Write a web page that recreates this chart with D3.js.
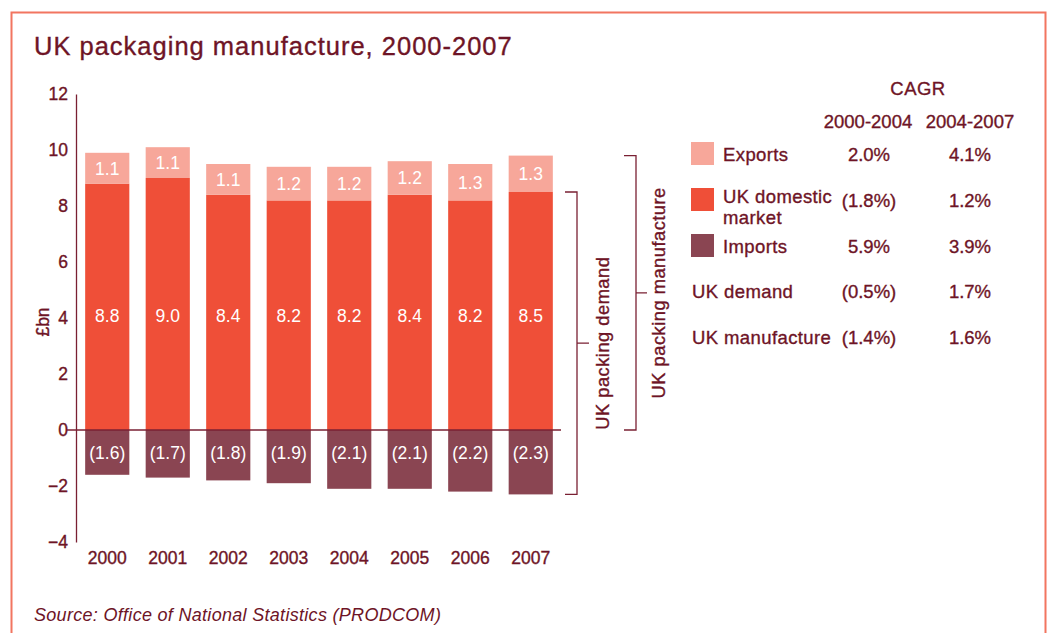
<!DOCTYPE html>
<html>
<head>
<meta charset="utf-8">
<script src="https://cdn.jsdelivr.net/npm/d3@7/dist/d3.min.js"></script>
<style>
  html, body { margin: 0; padding: 0; background: #fff; }
  svg { display: block; font-family: "Liberation Sans", Arial, Helvetica, sans-serif; }
  .ink { fill: #6e1426; stroke: #6e1426; stroke-width: 0.35px; }
</style>
</head>
<body>
<svg id="chart" width="1053" height="633"></svg>
<script>
// Data (£bn)
const years = ["2000", "2001", "2002", "2003", "2004", "2005", "2006", "2007"];
const domestic = [8.8, 9.0, 8.4, 8.2, 8.2, 8.4, 8.2, 8.5];
const exportsV = [1.1, 1.1, 1.1, 1.2, 1.2, 1.2, 1.3, 1.3];
const imports = [-1.6, -1.7, -1.8, -1.9, -2.1, -2.1, -2.2, -2.3];
const yTicks = [12, 10, 8, 6, 4, 2, 0, -2, -4];

// CAGR table
const cagrRows = ["Exports", "UK domestic\nmarket", "Imports", "UK demand", "UK manufacture"];
const cagr0004 = ["2.0%", "(1.8%)", "5.9%", "(0.5%)", "(1.4%)"];
const cagr0407 = ["4.1%", "1.2%", "3.9%", "1.7%", "1.6%"];

const C = {
  exports: "#f7a79a",
  domestic: "#ef4f38",
  imports: "#8a4552",
  text: "#6e1426",
  axis: "#7a2033",
  frame: "#f27560"
};

const svg = d3.select("#chart");

// Frame
svg.append("path")
  .attr("d", "M11.5,660 L11.5,12.5 L1045.5,12.5 L1045.5,660")
  .attr("fill", "none").attr("stroke", C.frame).attr("stroke-width", 2);

// Title
svg.append("text").attr("class", "ink").attr("x", 34).attr("y", 55)
  .attr("font-size", 25.5).attr("letter-spacing", 1.0)
  .text("UK packaging manufacture, 2000-2007");

// Scales
const x = d3.scaleBand().domain(years).range([77, 561]).paddingInner(0.27).paddingOuter(0.135);
const y = d3.scaleLinear().domain([-4, 12]).range([542, 94]);

// Y axis
const yAxis = svg.append("g").attr("transform", "translate(76,0)")
  .call(d3.axisLeft(y).tickValues(yTicks).tickSize(0).tickPadding(8).tickFormat(d3.format("d")));
yAxis.select(".domain").attr("stroke", C.axis).attr("stroke-width", 1.3);
yAxis.selectAll("text").attr("class", "ink").attr("font-size", 17.5)
  .attr("font-family", "Liberation Sans, Arial, sans-serif");

svg.append("text").attr("class", "ink")
  .attr("transform", `translate(49,${322}) rotate(-90)`)
  .attr("text-anchor", "middle").attr("font-size", 17.5)
  .text("£bn");

// Bars
const g = svg.append("g");
years.forEach((yr, i) => {
  const bx = x(yr), bw = x.bandwidth();
  // imports (negative)
  g.append("rect").attr("x", bx).attr("width", bw)
    .attr("y", y(0)).attr("height", y(imports[i]) - y(0)).attr("fill", C.imports);
  // domestic
  g.append("rect").attr("x", bx).attr("width", bw)
    .attr("y", y(domestic[i])).attr("height", y(0) - y(domestic[i])).attr("fill", C.domestic);
  // exports stacked on domestic
  g.append("rect").attr("x", bx).attr("width", bw)
    .attr("y", y(domestic[i] + exportsV[i])).attr("height", y(domestic[i]) - y(domestic[i] + exportsV[i]))
    .attr("fill", C.exports);
});

// Zero line
svg.append("line").attr("x1", 67).attr("x2", 561).attr("y1", y(0)).attr("y2", y(0))
  .attr("stroke", C.axis).attr("stroke-width", 1.3);

// Value labels
const lab = svg.append("g").attr("fill", "#fff").attr("font-size", 17.5).attr("text-anchor", "middle");
years.forEach((yr, i) => {
  const cx = x(yr) + x.bandwidth() / 2;
  lab.append("text").attr("x", cx).attr("y", y(domestic[i] + exportsV[i] / 2)).attr("dy", "0.36em")
    .text(exportsV[i].toFixed(1));
  lab.append("text").attr("x", cx).attr("y", y(4.1)).attr("dy", "0.36em")
    .text(domestic[i].toFixed(1));
  lab.append("text").attr("x", cx).attr("y", y(-0.8)).attr("dy", "0.36em")
    .text("(" + Math.abs(imports[i]).toFixed(1) + ")");
});

// Year labels
svg.append("g").selectAll("text").data(years).join("text")
  .attr("class", "ink")
  .attr("x", d => x(d) + x.bandwidth() / 2).attr("y", 564)
  .attr("text-anchor", "middle").attr("font-size", 17.5)
  .text(d => d);

// Brackets
const last = years.length - 1;
function bracket(xv, yTop, yBot, tickIn, tickOut, label, textX) {
  const yMid = (yTop + yBot) / 2;
  svg.append("path")
    .attr("d", `M${xv - tickIn},${yTop} H${xv} V${yBot} H${xv - tickIn} M${xv},${yMid} H${xv + tickOut}`)
    .attr("fill", "none").attr("stroke", C.axis).attr("stroke-width", 1.3);
  svg.append("text").attr("class", "ink")
    .attr("transform", `translate(${textX},${yMid}) rotate(-90)`)
    .attr("text-anchor", "middle").attr("font-size", 18.3).attr("letter-spacing", 0.5)
    .text(label);
}
bracket(577, y(domestic[last]), y(imports[last]), 12, 12, "UK packing demand", 609);
bracket(636, y(domestic[last] + exportsV[last]), y(0), 12, 11, "UK packing manufacture", 665);

// CAGR table
const t = svg.append("g").attr("font-size", 18.5);
t.append("text").attr("class", "ink").attr("x", 918).attr("y", 95).attr("text-anchor", "middle")
  .attr("letter-spacing", 0.5).text("CAGR");
t.append("text").attr("class", "ink").attr("x", 868).attr("y", 128).attr("text-anchor", "middle").text("2000-2004");
t.append("text").attr("class", "ink").attr("x", 970).attr("y", 128).attr("text-anchor", "middle").text("2004-2007");

const rowY = [161, 207, 253, 298, 344];
const swatches = [C.exports, C.domestic, C.imports];
cagrRows.forEach((name, i) => {
  const hasSw = i < 3;
  const lx = hasSw ? 723 : 692;
  if (hasSw) {
    t.append("rect").attr("x", 691).attr("y", rowY[i] - 19).attr("width", 23).attr("height", 23)
      .attr("fill", swatches[i]);
  }
  // two-line labels are written as separate text lines
  const lines = name.split("\n");
  const firstY = lines.length > 1 ? rowY[i] - 4 : rowY[i];
  lines.forEach((ln, k) => {
    t.append("text").attr("class", "ink").attr("x", lx).attr("y", firstY + k * 21)
      .attr("letter-spacing", 0.4).text(ln);
  });
  t.append("text").attr("class", "ink").attr("x", 869).attr("y", rowY[i]).attr("text-anchor", "middle").text(cagr0004[i]);
  t.append("text").attr("class", "ink").attr("x", 970).attr("y", rowY[i]).attr("text-anchor", "middle").text(cagr0407[i]);
});

// Source
svg.append("text").attr("x", 34).attr("y", 621)
  .attr("font-size", 18).attr("font-style", "italic").attr("letter-spacing", 0.3).attr("fill", C.text)
  .text("Source: Office of National Statistics (PRODCOM)");
</script>
</body>
</html>
